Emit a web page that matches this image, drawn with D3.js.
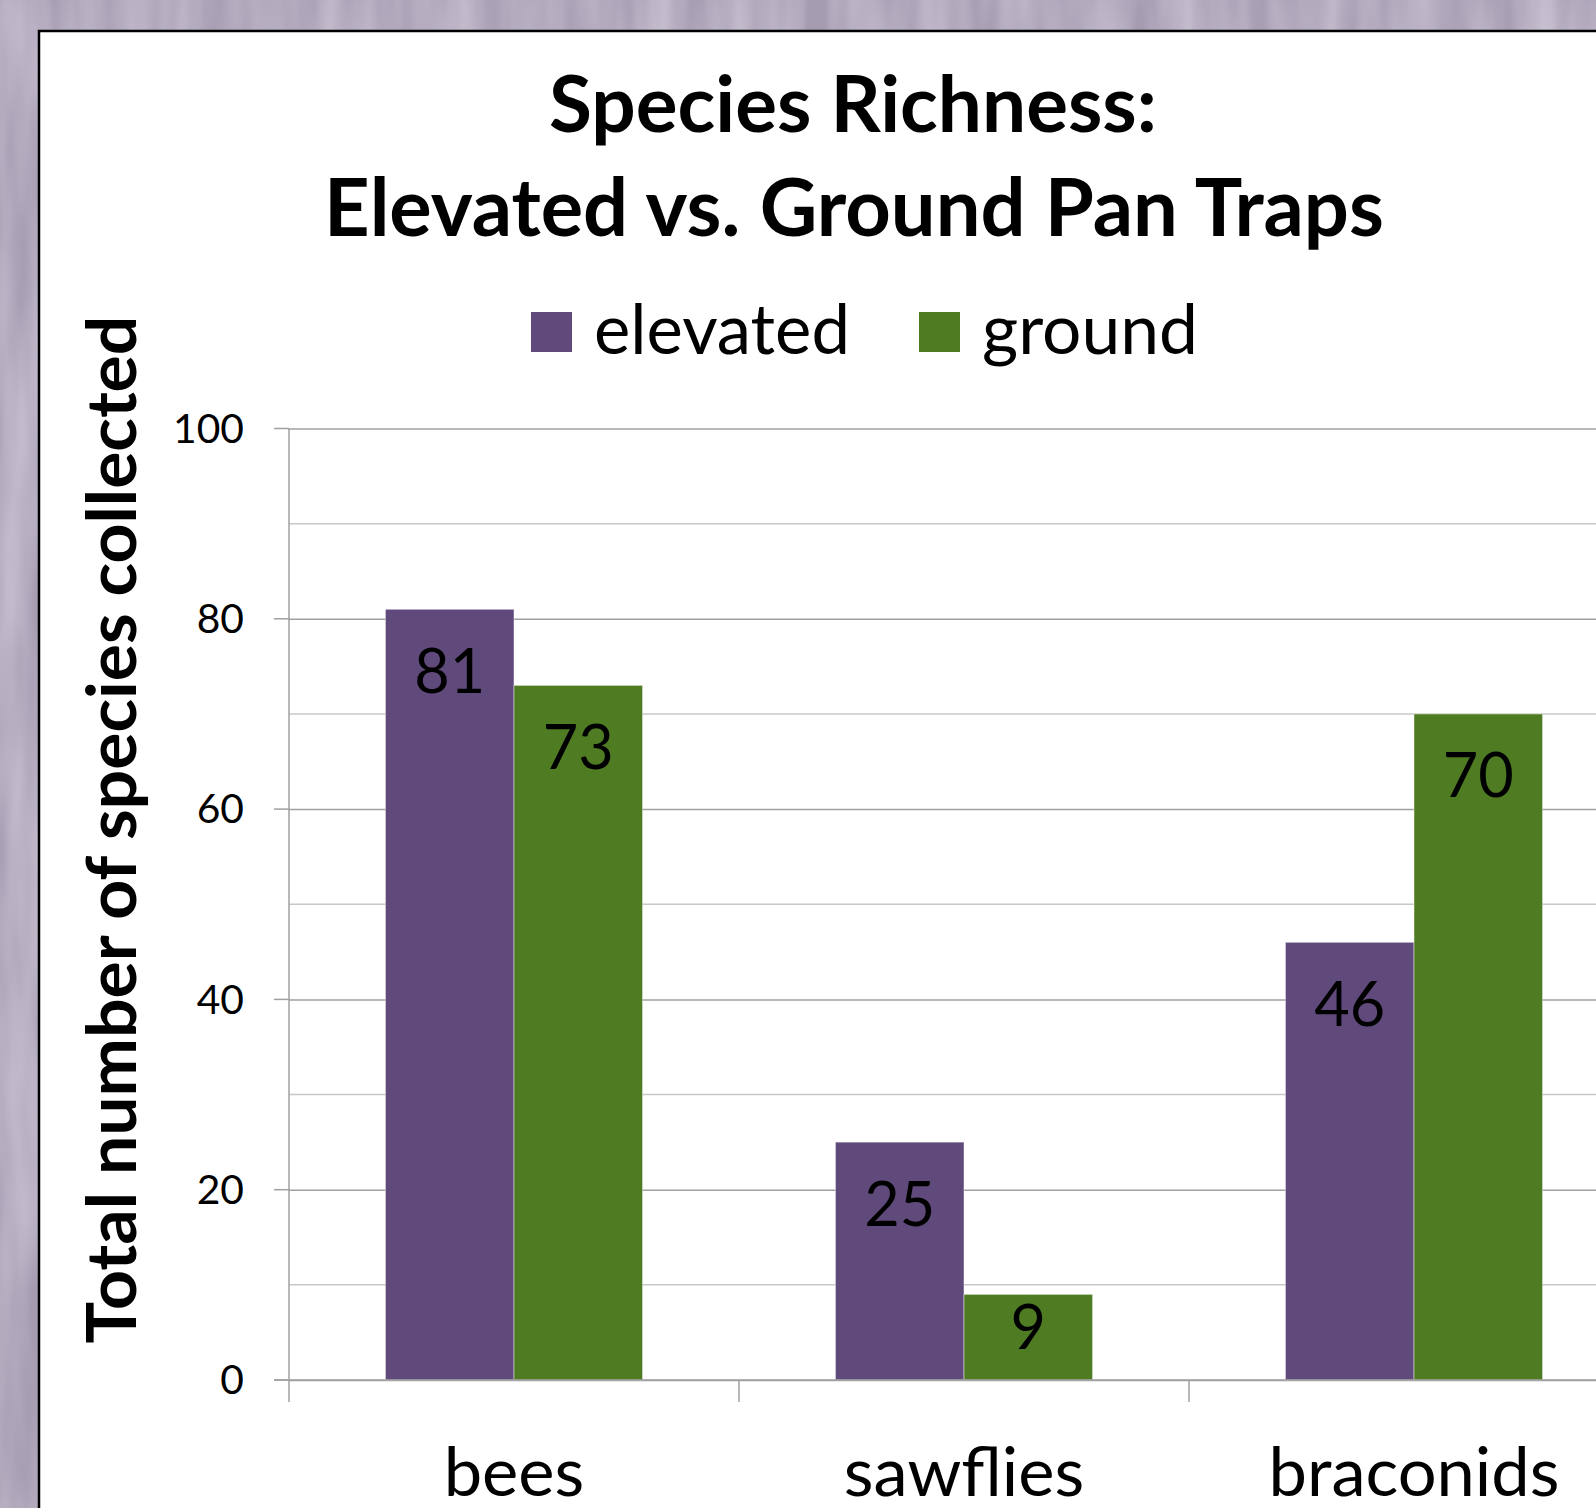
<!DOCTYPE html>
<html><head><meta charset="utf-8">
<script src="https://cdn.jsdelivr.net/npm/d3@7"></script>
<style>html,body{margin:0;padding:0;overflow:hidden;background:#aaa0b6}</style>
</head><body>
<svg id="chart" width="1596" height="1508"></svg>
<script>
// ---- data ----
const categories = ["bees", "sawflies", "braconids"];
const seriesNames = ["elevated", "ground"];
const elevated = [81, 25, 46];
const ground = [73, 9, 70];
const yTicks = [0, 20, 40, 60, 80, 100];
const yMinorTicks = [10, 30, 50, 70, 90];
const titleLines = ["Species Richness:", "Elevated vs. Ground Pan Traps"];
const yLabel = "Total number of species collected";
const seriesColors = ["#604a7b", "#4f7b22"];

const seriesValues = [elevated, ground];
const table = categories.map((c, i) => ({
  category: c,
  values: seriesNames.map((s, j) => ({ series: s, value: seriesValues[j][i], idx: j }))
}));

// ---- layout ----
const FONT = "Lato, 'Open Sans', sans-serif";
const svg = d3.select("#chart");

function fit(sel, target) {
  const w = sel.node().getComputedTextLength();
  const fs = parseFloat(sel.attr("font-size"));
  const nf = fs * target / w;
  sel.attr("font-size", nf);
  return nf;
}

// background texture
const defs = svg.append("defs");
const f = defs.append("filter").attr("id", "tex").attr("x", 0).attr("y", 0).attr("width", 1).attr("height", 1);
f.append("feTurbulence").attr("type", "fractalNoise").attr("baseFrequency", "0.025 0.004").attr("numOctaves", 3).attr("seed", 7);
f.append("feColorMatrix").attr("type", "matrix")
  .attr("values", "0 0 0 0 0.80  0 0 0 0 0.77  0 0 0 0 0.85  0.9 0 0 0 -0.25");
svg.append("rect").attr("width", 1596).attr("height", 1508).attr("fill", "#a69cb2");
svg.append("rect").attr("width", 1596).attr("height", 1508).attr("filter", "url(#tex)");

// chart panel
svg.append("rect").attr("x", 39).attr("y", 31).attr("width", 1620).attr("height", 1540)
  .attr("fill", "#ffffff").attr("stroke", "#000").attr("stroke-width", 2.5);

const plotLeft = 289, plotTop = 428.5, plotBottom = 1380, bandW = 450;
const x = d3.scaleBand().domain(categories).range([plotLeft, plotLeft + bandW * categories.length]).paddingInner(0).paddingOuter(0);
const xs = d3.scaleBand().domain(seriesNames).range([0, x.bandwidth()]).paddingInner(0).paddingOuter(0.75);
const y = d3.scaleLinear().domain([0, 100]).range([plotBottom, plotTop]);

// minor gridlines
svg.append("g").selectAll("line").data(yMinorTicks).join("line")
  .attr("x1", plotLeft).attr("x2", 1700)
  .attr("y1", d => y(d)).attr("y2", d => y(d))
  .attr("stroke", "#c8c8c8").attr("stroke-width", 1.5);

// major gridlines via axis
const yAxis = d3.axisLeft(y).tickValues(yTicks).tickSize(-(1700 - plotLeft)).tickFormat("");
const gy = svg.append("g").attr("transform", `translate(${plotLeft},0)`).call(yAxis);
gy.select(".domain").remove();
gy.selectAll(".tick line").attr("stroke", "#a0a0a0").attr("stroke-width", 1.5);
// outer tick marks
svg.append("g").selectAll("line").data(yTicks).join("line")
  .attr("x1", plotLeft - 15).attr("x2", plotLeft)
  .attr("y1", d => y(d)).attr("y2", d => y(d))
  .attr("stroke", "#a0a0a0").attr("stroke-width", 1.5);

// y tick labels
const ytl = svg.append("g").selectAll("text").data(yTicks).join("text")
  .attr("x", 244).attr("y", d => y(d)).attr("dy", "0.35em")
  .attr("text-anchor", "end").attr("font-family", FONT).attr("font-size", 40)
  .attr("fill", "#000").text(d => d);
const tickFs = fit(ytl.filter(d => d === 100), 71);
ytl.attr("font-size", tickFs);

// bars
const groups = svg.append("g").selectAll("g").data(table).join("g")
  .attr("transform", d => `translate(${x(d.category)},0)`);
groups.selectAll("rect").data(d => d.values).join("rect")
  .attr("x", d => xs(d.series)).attr("width", xs.bandwidth())
  .attr("y", d => y(d.value)).attr("height", d => y(0) - y(d.value))
  .attr("fill", d => seriesColors[d.idx])
  .attr("stroke", "rgba(255,255,255,0.45)").attr("stroke-width", 1);

// data labels
const labelFs = tickFs * 1.5;
groups.selectAll("text").data(d => d.values).join("text")
  .attr("x", d => xs(d.series) + xs.bandwidth() / 2)
  .attr("y", d => Math.min(y(d.value) + 83.5, y(0) - 31.5))
  .attr("text-anchor", "middle").attr("font-family", FONT).attr("font-size", labelFs)
  .attr("fill", "#000").text(d => d.value);

// axes lines
svg.append("line").attr("x1", plotLeft).attr("x2", plotLeft).attr("y1", plotTop).attr("y2", plotBottom)
  .attr("stroke", "#a0a0a0").attr("stroke-width", 1.5);
const xAxis = d3.axisBottom(x).tickSize(0).tickFormat("");
const gx = svg.append("g").attr("transform", `translate(0,${plotBottom})`).call(xAxis);
gx.select(".domain").remove();
svg.append("line").attr("x1", plotLeft - 15).attr("x2", 1700).attr("y1", plotBottom).attr("y2", plotBottom)
  .attr("stroke", "#a0a0a0").attr("stroke-width", 1.5);
svg.append("g").selectAll("line").data(categories).join("line")
  .attr("x1", d => x(d)).attr("x2", d => x(d))
  .attr("y1", plotBottom).attr("y2", plotBottom + 22)
  .attr("stroke", "#a0a0a0").attr("stroke-width", 1.5);

// x labels
const xl = svg.append("g").selectAll("text").data(categories).join("text")
  .attr("x", d => x(d) + x.bandwidth() / 2).attr("y", 1496)
  .attr("text-anchor", "middle").attr("font-family", FONT).attr("font-size", 60)
  .attr("fill", "#000").text(d => d);
const xFs = fit(xl.filter(d => d === "braconids"), 291);
xl.attr("font-size", xFs);

// title
const t1 = svg.append("text").attr("x", 853).attr("y", 132).attr("text-anchor", "middle")
  .attr("font-family", FONT).attr("font-weight", 700).attr("font-size", 70).attr("fill", "#000").text(titleLines[0]);
fit(t1, 608);
const t2 = svg.append("text").attr("x", 854).attr("y", 236).attr("text-anchor", "middle")
  .attr("font-family", FONT).attr("font-weight", 700).attr("font-size", 70).attr("fill", "#000").text(titleLines[1]);
fit(t2, 1060);

// legend
const legendX = [531, 919];
const legendTextW = [256, 216];
const lg = svg.append("g").selectAll("g").data(seriesNames).join("g")
  .attr("transform", (d, i) => `translate(${legendX[i]},0)`);
lg.append("rect").attr("x", 0).attr("y", 312).attr("width", 41).attr("height", 40)
  .attr("fill", (d, i) => seriesColors[i]);
lg.append("text").attr("x", 63).attr("y", 354).attr("font-family", FONT).attr("font-size", 60)
  .attr("fill", "#000").text(d => d)
  .each(function (d, i) { fit(d3.select(this), legendTextW[i]); });

// y label
const yl = svg.append("text").attr("transform", `translate(136,829.5) rotate(-90)`)
  .attr("text-anchor", "middle").attr("font-family", FONT).attr("font-weight", 700)
  .attr("font-size", 60).attr("fill", "#000").text(yLabel);
fit(yl, 1028);
</script>
</body></html>
